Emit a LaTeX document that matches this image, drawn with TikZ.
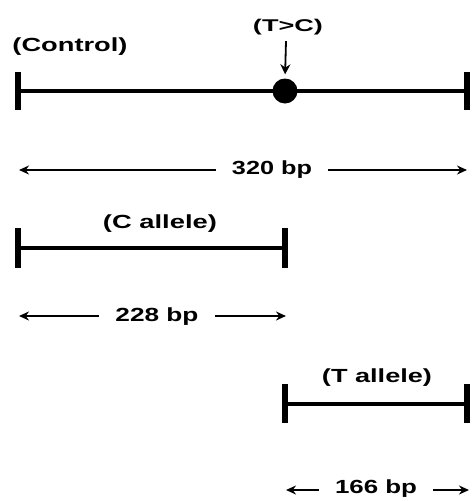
\documentclass[tikz,border=0pt]{standalone}
\usepackage{fontspec}
\usepackage{graphicx}
\setmainfont{Liberation Sans}
\usetikzlibrary{arrows.meta}
\newcommand\fitw[2]{\resizebox{#1pt}{\height}{#2}}
\begin{document}
\begin{tikzpicture}[x=1pt,y=-1pt,
  seg/.style={line width=4.5pt},
  tickmark/.style={line width=6pt},
  dim/.style={line width=1.8pt,{Stealth[length=10pt,width=9pt]}-{Stealth[length=10pt,width=9pt]}},
  lbl/.style={font=\bfseries\fontsize{19}{21}\selectfont,inner sep=1pt},
  dimlbl/.style={font=\bfseries\fontsize{19}{21}\selectfont,fill=white,inner xsep=16pt,inner ysep=2pt}]
\useasboundingbox (0,0) rectangle (472,501);
% Control
\coordinate (c1) at (18,91);
\coordinate (c2) at (467,91);
\draw[seg] (c1) -- (c2);
\draw[tickmark] (18,72) -- (18,110);
\draw[tickmark] (467,72) -- (467,110);
\node[lbl] (ctl) at (70,47) {\fitw{115}{(Control)}};
\node[circle,fill=black,minimum size=25pt,inner sep=0] (snp) at (285,91) {};
\node[lbl,font=\bfseries\fontsize{17}{19}\selectfont] (tc) at (288,27) {\fitw{70}{(T>C)}};
\draw[line width=1.8pt,-{Stealth[length=10pt,width=10pt]},shorten >=4pt] (tc.south) ++(-2,5) coordinate (a0) (a0) -- (snp.north);
% 320 bp
\coordinate (d1l) at (19,170);
\coordinate (d1r) at (467,170);
\draw[dim] (d1l) -- (d1r);
\node[dimlbl] (d1) at (272,170) {\fitw{80}{320 bp}};
% C allele
\draw[seg] (18,248) -- (285,248);
\draw[tickmark] (18,228) -- (18,268);
\draw[tickmark] (285,228) -- (285,268);
\node[lbl] (cal) at (160,224) {\fitw{114}{(C allele)}};
\coordinate (d2l) at (19,316);
\coordinate (d2r) at (286,316);
\draw[dim] (d2l) -- (d2r);
\node[dimlbl] (d2) at (157,317) {\fitw{83}{228 bp}};
% T allele
\draw[seg] (285,404) -- (467,404);
\draw[tickmark] (285,384) -- (285,423);
\draw[tickmark] (467,384) -- (467,423);
\node[lbl] (tal) at (377,378) {\fitw{110}{(T allele)}};
\coordinate (d3l) at (286,490);
\coordinate (d3r) at (469,490);
\draw[dim] (d3l) -- (d3r);
\node[dimlbl] (d3) at (376,489) {\fitw{82}{166 bp}};
\end{tikzpicture}
\end{document}
